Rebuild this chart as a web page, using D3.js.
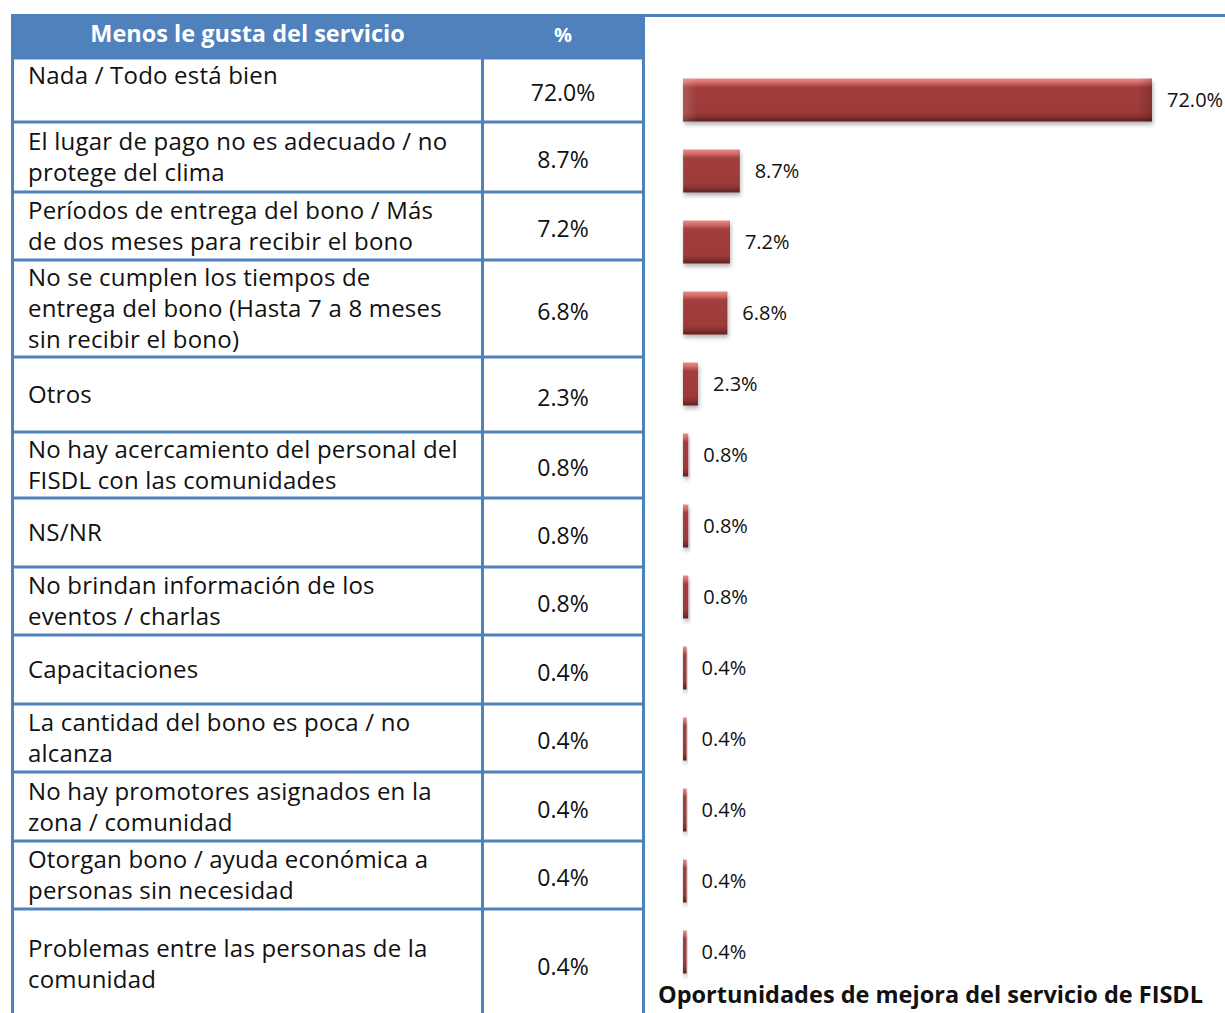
<!DOCTYPE html>
<html><head><meta charset="utf-8">
<script src="https://cdn.jsdelivr.net/npm/d3@7"></script>
<style>body{margin:0;background:#fff}svg{display:block}</style>
</head><body>
<script>
// ---- data ----
const categories = [
  "Nada / Todo está bien",
  "El lugar de pago no es adecuado / no\nprotege del clima",
  "Períodos de entrega del bono / Más\nde dos meses para recibir el bono",
  "No se cumplen los tiempos de\nentrega del bono (Hasta 7 a 8 meses\nsin recibir el bono)",
  "Otros",
  "No hay acercamiento del personal del\nFISDL con las comunidades",
  "NS/NR",
  "No brindan información de los\neventos / charlas",
  "Capacitaciones",
  "La cantidad del bono es poca / no\nalcanza",
  "No hay promotores asignados en la\nzona / comunidad",
  "Otorgan bono / ayuda económica a\npersonas sin necesidad",
  "Problemas entre las personas de la\ncomunidad"
];
const values = [72.0, 8.7, 7.2, 6.8, 2.3, 0.8, 0.8, 0.8, 0.4, 0.4, 0.4, 0.4, 0.4];
const headerLabels = ["Menos le gusta del servicio", "%"];
const chartTitle = "Oportunidades de mejora del servicio de FISDL";

// ---- layout ----
const W = 1225, H = 1013;
const rowHeights = [64, 70, 68, 97, 75, 66, 69, 68, 69, 68, 69, 68, 110];
const blue = "#4F81BD";
const font = "'Open Sans', 'DejaVu Sans', sans-serif";

const svg = d3.select("body").append("svg").attr("width", W).attr("height", H);
const defs = svg.append("defs");
const g = defs.append("linearGradient").attr("id", "barGrad").attr("x1", 0).attr("y1", 0).attr("x2", 0).attr("y2", 1);
[[0, "#ED8B88"], [0.1, "#D06A67"], [0.2, "#A23E3C"], [0.8, "#9C3A39"], [0.9, "#84302F"], [1, "#5E2121"]]
  .forEach(([o, c]) => g.append("stop").attr("offset", o).attr("stop-color", c));
const gh = defs.append("linearGradient").attr("id", "barEdge").attr("x1", 0).attr("y1", 0).attr("x2", 1).attr("y2", 0);
[[0, "rgba(255,255,255,0.15)"], [0.03, "rgba(255,255,255,0)"], [0.97, "rgba(0,0,0,0)"], [1, "rgba(0,0,0,0.18)"]]
  .forEach(([o, c]) => gh.append("stop").attr("offset", o).attr("stop-color", c));
const f = defs.append("filter").attr("id", "shadow").attr("x", "-20%").attr("y", "-20%").attr("width", "160%").attr("height", "160%");
f.append("feDropShadow").attr("dx", 1).attr("dy", 3).attr("stdDeviation", 2).attr("flood-color", "#000").attr("flood-opacity", 0.3);

// ---- table ----
const tLeft = 12.5, tDiv = 482.5, tRight = 643.5, headTop = 14, headBot = 58;
const tops = [headBot];
rowHeights.forEach((h, i) => tops.push(tops[i] + h));

svg.append("rect").attr("x", tLeft).attr("y", headTop).attr("width", tRight - tLeft).attr("height", headBot - headTop).attr("fill", blue);
svg.append("text").attr("x", (tLeft + tDiv) / 2).attr("y", 33).attr("text-anchor", "middle").attr("dominant-baseline", "central")
  .attr("font-family", font).attr("font-weight", 700).attr("font-size", 23.5).attr("fill", "#fff").text(headerLabels[0]);
svg.append("text").attr("x", (tDiv + tRight) / 2).attr("y", 34).attr("text-anchor", "middle").attr("dominant-baseline", "central")
  .attr("font-family", font).attr("font-weight", 700).attr("font-size", 20).attr("fill", "#fff").text(headerLabels[1]);

const rows = svg.append("g").selectAll("g").data(categories).join("g");
rows.each(function (d, i) {
  const gg = d3.select(this);
  const lines = d.split("\n");
  const top = tops[i], h = rowHeights[i];
  const lh = 31;
  let firstY;
  if (i === 0) firstY = top + 16;
  else firstY = top + h / 2 - (lines.length - 1) * lh / 2 - 1;
  lines.forEach((ln, k) => {
    gg.append("text").attr("x", 28).attr("y", firstY + k * lh).attr("dominant-baseline", "central")
      .attr("font-family", font).attr("font-size", 24).attr("letter-spacing", 0.2).attr("fill", "#111").text(ln);
  });
  gg.append("text").attr("x", (tDiv + tRight) / 2).attr("y", top + h / 2 + 2).attr("text-anchor", "middle").attr("dominant-baseline", "central")
    .attr("font-family", font).attr("font-size", 23).attr("fill", "#111").text(values[i].toFixed(1) + "%");
});

// grid lines
const grid = svg.append("g").attr("stroke", blue).attr("stroke-width", 3).attr("fill", "none");
tops.forEach(y => grid.append("line").attr("x1", tLeft).attr("x2", tRight).attr("y1", y).attr("y2", y));
grid.append("line").attr("x1", tLeft).attr("x2", tLeft).attr("y1", headTop).attr("y2", H + 20);
grid.append("line").attr("x1", tDiv).attr("x2", tDiv).attr("y1", headBot).attr("y2", H + 20);
grid.append("line").attr("x1", tRight).attr("x2", tRight).attr("y1", headTop).attr("y2", H + 20);
grid.append("line").attr("x1", tRight).attr("x2", W).attr("y1", 15.5).attr("y2", 15.5);

// ---- bar chart ----
const x = d3.scaleLinear().domain([0, 72]).range([683, 1152]);
const y = d3.scalePoint().domain(categories).range([100, 952]);
const barH = 43;
const bars = svg.append("g");
bars.selectAll("rect.bar").data(categories).join("rect").attr("class", "bar")
  .attr("x", x(0)).attr("y", d => y(d) - barH / 2)
  .attr("width", (d, i) => Math.max(3.5, x(values[i]) - x(0))).attr("height", barH)
  .attr("fill", "url(#barGrad)").attr("filter", "url(#shadow)");
bars.selectAll("rect.edge").data(categories).join("rect").attr("class", "edge")
  .attr("x", x(0)).attr("y", d => y(d) - barH / 2)
  .attr("width", (d, i) => Math.max(3.5, x(values[i]) - x(0))).attr("height", barH)
  .attr("fill", "url(#barEdge)");
bars.selectAll("text").data(categories).join("text")
  .attr("x", (d, i) => Math.max(x(0) + 3.5, x(values[i])) + 15).attr("y", d => y(d) - 1)
  .attr("dominant-baseline", "central").attr("font-family", font).attr("font-size", 20).attr("fill", "#111")
  .text((d, i) => values[i].toFixed(1) + "%");

svg.append("text").attr("x", 658).attr("y", 994).attr("dominant-baseline", "central")
  .attr("font-family", font).attr("font-weight", 700).attr("font-size", 23.5).attr("fill", "#111").text(chartTitle);
</script>
</body></html>
